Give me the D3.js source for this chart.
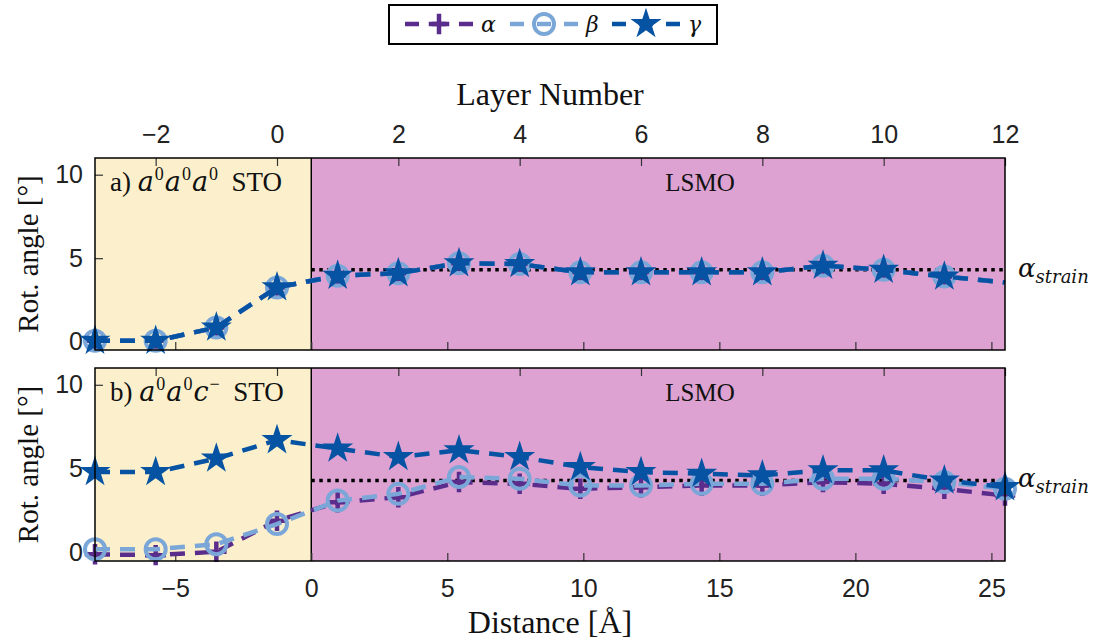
<!DOCTYPE html>
<html><head><meta charset="utf-8">
<script src="https://cdn.jsdelivr.net/npm/d3@7"></script>
<style>
body{margin:0;background:#fff;}
svg{display:block;}
.tick text{font-family:"Liberation Sans Narrow","Liberation Sans",Arial,sans-serif;}
.serif{font-family:"Liberation Serif","DejaVu Serif",serif;}
.math{font-family:"DejaVu Serif","Liberation Serif",serif;font-style:italic;}
</style></head>
<body><svg id="c" width="1096" height="644"></svg>
<script>
// ---------- data ----------
const layers = [-3,-2,-1,0,1,2,3,4,5,6,7,8,9,10,11,12];
const alphaA = [0.05,0.05,0.85,3.25,3.95,4.1,4.7,4.65,4.15,4.15,4.15,4.15,4.55,4.3,3.9,3.55];
const betaA  = [0.05,0.05,0.85,3.25,3.95,4.1,4.7,4.65,4.15,4.15,4.15,4.15,4.55,4.3,3.9,3.55];
const gammaA = [0.05,0.05,0.85,3.25,3.95,4.1,4.7,4.65,4.15,4.15,4.15,4.15,4.55,4.3,3.9,3.55];
const markersA = 15; // panel a shows markers up to layer 11
const alphaB = [-0.1,-0.15,0.05,1.9,3.0,3.3,4.2,4.1,3.8,3.9,4.0,4.0,4.2,4.1,3.8,3.4];
const betaB  = [0.2,0.2,0.5,1.7,3.1,3.5,4.5,4.4,4.0,4.0,4.1,4.1,4.4,4.4,4.2,3.8];
const gammaB = [4.8,4.8,5.6,6.7,6.2,5.7,6.1,5.7,5.1,4.8,4.7,4.6,4.9,4.9,4.3,3.9];
const markersB = 16;
const alphaStrain = 4.3;
const layerTicks = [-2,0,2,4,6,8,10,12];
const distTicks = [-5,0,5,10,15,20,25];
const yTicks = [0,5,10];
const layerDomain = [-3,12];
const distDomain = [-7.95,25.5];
const yDomain = [-0.5,11];

// ---------- style ----------
const C = {alpha:"#5a2d8c", beta:"#7ba6d8", gamma:"#0653a3", sto:"#fcf0cc", lsmo:"#dda2d2"};
const svg = d3.select("#c");
const L = 95, R = 1005;
const xLayer = d3.scaleLinear(layerDomain,[L,R]);
const xDist = d3.scaleLinear(distDomain,[L,R]);

const plus = {draw(ctx,size){const r=Math.sqrt(size)/2;ctx.moveTo(-r,0);ctx.lineTo(r,0);ctx.moveTo(0,-r);ctx.lineTo(0,r);}};

function marker(g, type, x, y){
  if(type==="alpha"){
    g.append("path").attr("transform",`translate(${x},${y})`)
     .attr("d",d3.symbol(plus,420)()).attr("stroke",C.alpha).attr("stroke-width",4.5).attr("fill","none");
  } else if(type==="beta"){
    g.append("circle").attr("cx",x).attr("cy",y).attr("r",10)
     .attr("stroke",C.beta).attr("stroke-width",4).attr("fill","none");
  } else {
    g.append("path").attr("transform",`translate(${x},${y})`)
     .attr("d",d3.symbol(d3.symbolStar,300)()).attr("fill",C.gamma);
  }
}

function panel(top,bottom,series,nMarkers,label){
  const y = d3.scaleLinear(yDomain,[bottom,top]);
  const g = svg.append("g");
  g.append("rect").attr("x",L).attr("y",top).attr("width",xDist(0)-L).attr("height",bottom-top).attr("fill",C.sto);
  g.append("rect").attr("x",xDist(0)).attr("y",top).attr("width",R-xDist(0)).attr("height",bottom-top).attr("fill",C.lsmo);
  g.append("line").attr("x1",xDist(0)).attr("x2",xDist(0)).attr("y1",top).attr("y2",bottom).attr("stroke","#000").attr("stroke-width",1.5);
  const ay = g.append("g").attr("transform",`translate(${L},0)`)
    .call(d3.axisLeft(y).tickValues(yTicks).tickSize(-8).tickPadding(12).tickFormat(d3.format("d")));
  const ab = g.append("g").attr("transform",`translate(0,${bottom})`)
    .call(d3.axisBottom(xDist).tickValues(distTicks).tickSize(-8).tickFormat(top>300?d3.format("d"):""));
  const at = g.append("g").attr("transform",`translate(0,${top})`)
    .call(d3.axisTop(xLayer).tickValues(layerTicks).tickSize(-8).tickFormat(top<300?d3.format("d"):""));
  [ay,ab,at].forEach(a=>{a.select(".domain").remove();a.selectAll(".tick line").attr("stroke","#333").attr("stroke-width",1.2);
    a.selectAll(".tick text").attr("font-size",25).attr("fill","#222");});
  ab.selectAll(".tick text").attr("dy","1.3em");
  at.selectAll(".tick text").attr("dy","-0.25em").attr("transform","translate(0,-6)");
  g.append("line").attr("x1",xDist(0)).attr("x2",R).attr("y1",y(alphaStrain)).attr("y2",y(alphaStrain))
    .attr("stroke","#000").attr("stroke-width",3.5).attr("stroke-dasharray","3.5,4.5");
  const line = d3.line().x((d,i)=>xLayer(layers[i])).y(d=>y(d));
  series.forEach(([key,vals])=>{
    g.append("path").attr("d",line(vals)).attr("fill","none").attr("stroke",C[key])
      .attr("stroke-width",4.5).attr("stroke-dasharray","15,10");
    vals.forEach((v,i)=>{ if(i<nMarkers) marker(g,key,xLayer(layers[i]),y(v)); });
  });
  g.append("rect").attr("x",L).attr("y",top).attr("width",R-L).attr("height",bottom-top)
    .attr("fill","none").attr("stroke","#000").attr("stroke-width",1.5);
  // panel label
  const t = g.append("text").attr("class","serif").attr("x",110).attr("y",top+33).attr("font-size",27).attr("fill","#111");
  t.append("tspan").text(label[0]+" ");
  label[1].forEach(([b,s],i)=>{
    t.append("tspan").attr("class","math").attr("dy",i===0?0:11).attr("dx",i===0?0:1).text(b);
    t.append("tspan").attr("class","serif").attr("font-size",18).attr("dy",-11).attr("dx",1).text(s);
  });
  t.append("tspan").attr("dy",11).text("\u00a0\u00a0STO");
  g.append("text").attr("class","serif").attr("x",700).attr("y",top+33).attr("text-anchor","middle").attr("font-size",25).attr("fill","#111").text("LSMO");
  const s = g.append("text").attr("x",1018).attr("y",y(alphaStrain)+7).attr("font-size",26).attr("fill","#111");
  s.append("tspan").attr("class","math").text("α");
  s.append("tspan").attr("class","math").attr("font-size",18).attr("dy",6).text("strain");
  g.append("text").attr("class","serif").attr("transform",`translate(38,${(top+bottom)/2}) rotate(-90)`).attr("text-anchor","middle")
    .attr("font-size",29).attr("fill","#111").text("Rot. angle [°]");
}

panel(158,350,[["alpha",alphaA],["beta",betaA],["gamma",gammaA]],markersA,["a)",[["a","0"],["a","0"],["a","0"]]]);
panel(368,561,[["alpha",alphaB],["beta",betaB],["gamma",gammaB]],markersB,["b)",[["a","0"],["a","0"],["c","−"]]]);

svg.append("text").attr("class","serif").attr("x",550).attr("y",105).attr("text-anchor","middle").attr("font-size",32).attr("fill","#111").text("Layer Number");
svg.append("text").attr("class","serif").attr("x",550).attr("y",633).attr("text-anchor","middle").attr("font-size",32).attr("fill","#111").text("Distance [Å]");

// legend
const lg = svg.append("g");
lg.append("rect").attr("x",389).attr("y",5).attr("width",328).attr("height",39).attr("fill","#fff").attr("stroke","#000").attr("stroke-width",2);
const legItems = [["alpha","α",405],["beta","β",510],["gamma","γ",612]];
legItems.forEach(([k,lab,x0])=>{
  lg.append("line").attr("x1",x0).attr("x2",x0+68).attr("y1",24).attr("y2",24).attr("stroke",C[k]).attr("stroke-width",4.5).attr("stroke-dasharray","14,13");
  marker(lg,k,x0+34,24);
  lg.append("text").attr("class","math").attr("x",x0+76).attr("y",32).attr("font-size",22).attr("fill","#111").text(lab);
});
</script></body></html>
